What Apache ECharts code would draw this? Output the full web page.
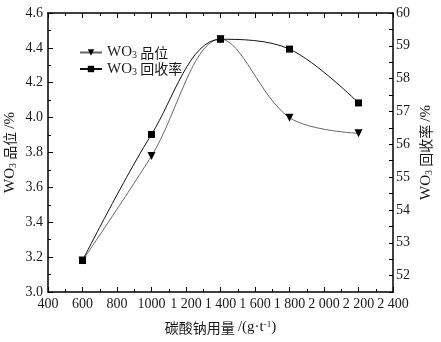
<!DOCTYPE html>
<html>
<head>
<meta charset="utf-8">
<script src="https://cdn.jsdelivr.net/npm/echarts@6/dist/echarts.min.js"></script>
<style>
  html, body { margin: 0; padding: 0; background: #fff; }
  #myChart { width: 441px; height: 342px; }
</style>
</head>
<body>
<div id="myChart"></div>
<script>
let myChart = echarts.init(document.getElementById('myChart'));

// sodium carbonate dosage, g/t
const dosage = [600, 1000, 1400, 1800, 2200];
// WO3 grade, %
const grade = [3.18, 3.78, 4.45, 4.0, 3.91];
// WO3 recovery, %
const recovery = [52.46, 56.3, 59.2, 58.9, 57.26];
// x tick labels as printed
const xTickLabels = {
  400: '400', 600: '600', 800: '800', 1000: '1000', 1200: '1 200', 1400: '1 400',
  1600: '1 600', 1800: '1 800', 2000: '2 000', 2200: '2 200', 2400: '2 400',
};

const serif = 'Liberation Serif, Noto Sans CJK SC';
const ink = '#1a1a1a';

const rich = {
  a: { fontFamily: serif, fontSize: 15, color: ink },
  c: { fontFamily: 'Noto Sans CJK SC', fontSize: 14, color: ink },
  s: { fontFamily: serif, fontSize: 10, color: ink, verticalAlign: 'bottom', padding: [6, 0, 0, 0] },
};

const axisLine = { show: true, lineStyle: { color: '#000', width: 1.5 } };
const tick = { show: true, inside: true, length: 5, lineStyle: { color: '#000' } };
const minor = { show: true, splitNumber: 2, length: 3, lineStyle: { color: '#000' } };

let myChartOption = {
  animation: false,
  grid: {
    left: 48,
    right: 48,
    top: 13,
    bottom: 50,
    outerBoundsMode: 'none',
    containLabel: false,
  },
  legend: {
    orient: 'vertical',
    left: 74,
    top: 40,
    itemGap: 1,
    itemWidth: 22,
    itemHeight: 8,
    data: ['grade', 'recovery'],
    textStyle: { rich: rich },
    formatter: function (name) {
      return name === 'grade' ? '{a|WO}{s|3}{c| 品位}' : '{a|WO}{s|3}{c| 回收率}';
    },
  },
  xAxis: [
    {
      type: 'value',
      min: 400,
      max: 2400,
      interval: 200,
      axisLine: axisLine,
      axisTick: tick,
      minorTick: minor,
      splitLine: { show: false },
      axisLabel: {
        margin: 5,
        fontFamily: serif,
        fontSize: 14,
        color: ink,
        formatter: function (v) { return xTickLabels[v] || ''; },
      },
      name: '{c|碳酸钠用量 }{a|/(g·t}{s|-1}{a|)}',
      nameLocation: 'middle',
      nameGap: 28,
      nameMoveOverlap: false,
      nameTextStyle: { rich: Object.assign({}, rich, {
        s: { fontFamily: serif, fontSize: 9, color: ink, verticalAlign: 'top', padding: [0, 0, 6, 0] },
      }) },
    },
    {
      type: 'value',
      position: 'top',
      min: 400,
      max: 2400,
      interval: 200,
      axisLine: axisLine,
      axisTick: tick,
      minorTick: minor,
      splitLine: { show: false },
      axisLabel: { show: false },
    },
  ],
  yAxis: [
    {
      type: 'value',
      min: 3.0,
      max: 4.6,
      interval: 0.2,
      axisLine: axisLine,
      axisTick: tick,
      minorTick: minor,
      splitLine: { show: false },
      axisLabel: {
        margin: 5,
        fontFamily: serif,
        fontSize: 14,
        color: ink,
        formatter: function (v) { return v.toFixed(1); },
      },
      name: '{a|WO}{s|3}{c| 品位 }{a|/%}',
      nameLocation: 'middle',
      nameRotate: 90,
      nameGap: 30,
      nameMoveOverlap: false,
      nameTextStyle: { rich: rich },
    },
    {
      type: 'value',
      position: 'right',
      min: 51.5,
      max: 60,
      interval: 0.5,
      axisLine: axisLine,
      axisTick: { show: true, inside: true, length: 4, lineStyle: { color: '#000' } },
      splitLine: { show: false },
      axisLabel: {
        margin: 3,
        fontFamily: serif,
        fontSize: 14,
        color: ink,
        formatter: function (v) { return Number.isInteger(v) ? String(v) : ''; },
      },
      name: '{a|WO}{s|3}{c| 回收率 }{a|/%}',
      nameLocation: 'middle',
      nameRotate: 90,
      nameGap: 25,
      nameMoveOverlap: false,
      nameTextStyle: { rich: rich },
    },
  ],
  series: [
    {
      name: 'grade',
      type: 'line',
      yAxisIndex: 0,
      smooth: 0.35,
      symbol: 'triangle',
      symbolRotate: 180,
      symbolSize: 8,
      lineStyle: { color: '#666', width: 1 },
      itemStyle: { color: '#000' },
      data: dosage.map(function (d, i) { return [d, grade[i]]; }),
    },
    {
      name: 'recovery',
      type: 'line',
      yAxisIndex: 1,
      smooth: 0.35,
      symbol: 'rect',
      symbolSize: 7,
      lineStyle: { color: '#111', width: 1 },
      itemStyle: { color: '#000' },
      data: dosage.map(function (d, i) { return [d, recovery[i]]; }),
    },
  ],
};

myChart.setOption(myChartOption);
</script>
</body>
</html>
